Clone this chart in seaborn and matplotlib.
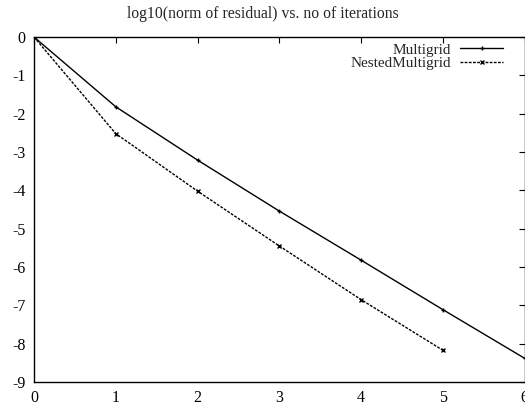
import numpy as np
import pandas as pd
import seaborn as sns
import matplotlib.pyplot as plt

# dados
iteracoes_mg = [0, 1, 2, 3, 4, 5, 6]
residuo_mg = [0.0, -1.82, -3.21, -4.54, -5.82, -7.11, -8.38]
iteracoes_nested = [0, 1, 2, 3, 4, 5]
residuo_nested = [0.0, -2.52, -4.02, -5.45, -6.85, -8.17]

sns.set_theme(style='white')
plt.rcParams['font.family'] = ['Liberation Serif', 'DejaVu Serif']
plt.rcParams['axes.unicode_minus'] = False

fig = plt.figure(figsize=(5.25, 4.08), dpi=100)
ax = fig.add_axes([34 / 525, 1 - 382 / 408, 490.5 / 525, (382 - 37) / 408])

sns.lineplot(x=iteracoes_mg, y=residuo_mg, ax=ax, color='black', linewidth=1,
             marker='+', markersize=3.5, markeredgewidth=1, markeredgecolor='black',
             label='Multigrid')
sns.lineplot(x=iteracoes_nested, y=residuo_nested, ax=ax, color='black', linewidth=1,
             linestyle=(0, (2, 1)), marker='x', markersize=3, markeredgewidth=1,
             markeredgecolor='black', label='NestedMultigrid')

ax.set_xlim(0, 6)
ax.set_ylim(-9, 0)
ax.set_xticks(range(0, 7))
ax.set_yticks(range(-9, 1))
ax.tick_params(direction='in', length=4, width=0.8, top=True, right=True,
               labelsize=11.5, colors='black', pad=6)
for s in ax.spines.values():
    s.set_color('black')
    s.set_linewidth(1)
ax.set_xlabel('')
ax.set_ylabel('')

fig.suptitle('log10(norm of residual) vs. no of iterations', fontsize=11.3, y=0.985)

leg = ax.legend(loc='upper right', bbox_to_anchor=(509 / 525, 1 - 37 / 408),
                bbox_transform=fig.transFigure, frameon=False, markerfirst=False,
                fontsize=11, handlelength=2.8, handletextpad=0.6, labelspacing=0.0,
                borderaxespad=0)

fig.savefig('out.png', dpi=100)
